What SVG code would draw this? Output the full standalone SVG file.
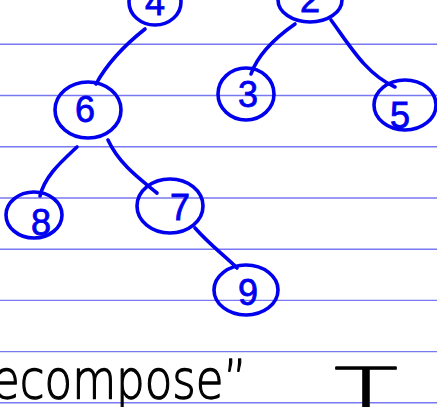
<svg xmlns="http://www.w3.org/2000/svg" width="437" height="407" viewBox="0 0 437 407">
  <style>
    .rule { stroke: #7878f2; stroke-width: 1.4; }
    .ink { fill: none; stroke: #0000ee; stroke-width: 3.6; stroke-linecap: round; stroke-linejoin: round; }
    .num { fill: #0000ee; stroke: #0000ee; stroke-width: 0.8; font-family: "Liberation Sans", Arial, sans-serif; font-size: 36px; text-anchor: middle; }
    .note { fill: #000; stroke: #000; stroke-width: 1.3; stroke-linejoin: round; font-family: "DejaVu Sans", "Liberation Sans", sans-serif; font-weight: 200; }
  </style>
  <rect width="437" height="407" fill="#fff"/>

  <!-- ruled notebook lines -->
  <g id="rules">
    <line class="rule" x1="0" y1="44.3" x2="437" y2="44.3"/>
    <line class="rule" x1="0" y1="95.5" x2="437" y2="95.5"/>
    <line class="rule" x1="0" y1="146.7" x2="437" y2="146.7"/>
    <line class="rule" x1="0" y1="198" x2="437" y2="198"/>
    <line class="rule" x1="0" y1="249.2" x2="437" y2="249.2"/>
    <line class="rule" x1="0" y1="300.4" x2="437" y2="300.4"/>
    <line class="rule" x1="0" y1="351.6" x2="437" y2="351.6"/>
    <line class="rule" x1="0" y1="402.8" x2="437" y2="402.8"/>
  </g>

  <!-- tree edges -->
  <g id="connectors">
    <path class="ink" d="M145,29 C126,44 108,62 96,84"/>
    <path class="ink" d="M295,24 C275,38 258,54 251,74"/>
    <path class="ink" d="M331,20 C350,46 366,74 395,87"/>
    <path class="ink" d="M77,147 C60,163 45,176 40,196"/>
    <path class="ink" d="M108,140 C119,164 140,179 157,193"/>
    <path class="ink" d="M195,228 C210,245 225,256 237,268"/>
  </g>

  <g id="node-4">
    <ellipse class="ink" cx="155" cy="2" rx="26" ry="23"/>
    <text class="num" x="155" y="15">4</text>
  </g>
  <g id="node-2">
    <ellipse class="ink" cx="310" cy="0" rx="32" ry="22"/>
    <text class="num" x="310" y="12">2</text>
  </g>
  <g id="node-6">
    <ellipse class="ink" cx="88" cy="110" rx="33" ry="28"/>
    <text class="num" x="85" y="122">6</text>
  </g>
  <g id="node-3">
    <ellipse class="ink" cx="246" cy="94" rx="28" ry="26"/>
    <text class="num" x="248" y="107">3</text>
  </g>
  <g id="node-5">
    <ellipse class="ink" cx="405" cy="105" rx="31" ry="25"/>
    <text class="num" x="400" y="128">5</text>
  </g>
  <g id="node-8">
    <ellipse class="ink" cx="34" cy="215" rx="28" ry="23"/>
    <text class="num" x="41" y="235">8</text>
  </g>
  <g id="node-7">
    <ellipse class="ink" cx="170" cy="206" rx="33" ry="27"/>
    <text class="num" x="180" y="220">7</text>
  </g>
  <g id="node-9">
    <ellipse class="ink" cx="246" cy="290" rx="32" ry="25"/>
    <text class="num" x="248" y="305">9</text>
  </g>

  <!-- handwritten caption -->
  <text class="note" x="-8" y="398" font-size="54" textLength="255" lengthAdjust="spacingAndGlyphs">ecompose”</text>
  <text class="note" x="334" y="407" font-size="56" textLength="64" lengthAdjust="spacingAndGlyphs">T</text>
</svg>
